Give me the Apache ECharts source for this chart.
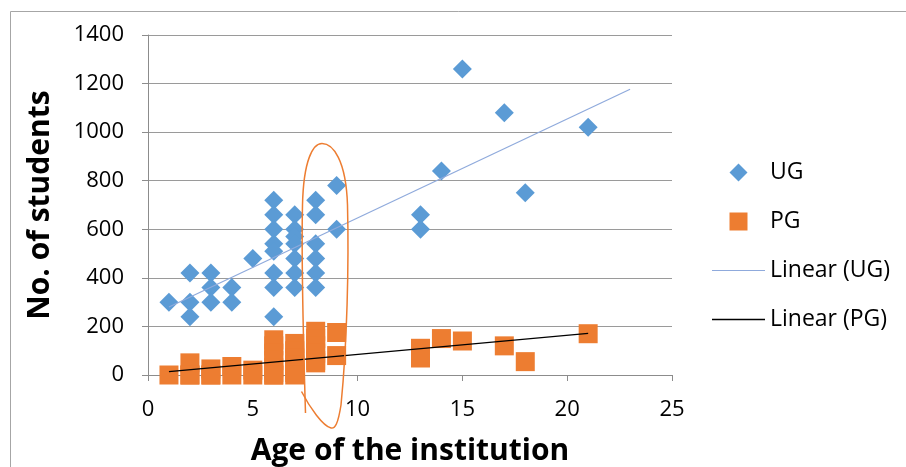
<!DOCTYPE html>
<html>
<head>
<meta charset="utf-8">
<script src="https://cdn.jsdelivr.net/npm/echarts@6/dist/echarts.min.js"></script>
<style>
  html, body { margin: 0; padding: 0; background: #fff; }
  #chart { width: 906px; height: 467px; }
</style>
</head>
<body>
<div id="chart"></div>
<script>
// ---- Data ----
var xTicks = [0, 5, 10, 15, 20, 25];
var yTicks = [0, 200, 400, 600, 800, 1000, 1200, 1400];

// Undergraduate students: [age of institution, number of students]
var ugAges   = [1, 2, 2, 2, 3, 3, 3, 4, 4, 5,
                6, 6, 6, 6, 6, 6, 6, 6,
                7, 7, 7, 7, 7, 7, 7,
                8, 8, 8, 8, 8, 8,
                9, 9, 13, 13, 14, 15, 17, 18, 21];
var ugValues = [300, 420, 300, 240, 420, 360, 300, 360, 300, 480,
                720, 660, 600, 540, 510, 420, 360, 240,
                660, 600, 570, 540, 480, 420, 360,
                720, 660, 540, 480, 420, 360,
                780, 600, 660, 600, 840, 1260, 1080, 750, 1020];

// Postgraduate students
var pgAges   = [1, 2, 2, 2, 3, 3, 3, 4, 4, 5, 5,
                6, 6, 6, 6, 6, 6, 6, 6,
                7, 7, 7, 7, 7, 7, 7,
                8, 8, 8, 8, 8, 8,
                9, 9, 13, 13, 14, 15, 17, 18, 21];
var pgValues = [0, 50, 0, 0, 25, 0, 0, 35, 0, 20, 0,
                145, 120, 90, 60, 30, 10, 0, 0,
                130, 100, 70, 40, 20, 10, 0,
                180, 150, 120, 90, 60, 50,
                175, 80, 110, 70, 150, 140, 120, 55, 170];

var seriesNames = ['UG', 'PG', 'Linear (UG)', 'Linear (PG)'];
var ugForecastForward = 2; // trendline extended forward (periods)

function pairs(xs, ys) { return xs.map(function (x, i) { return [x, ys[i]]; }); }
function linreg(xs, ys) {
  var n = xs.length, sx = 0, sy = 0, sxy = 0, sxx = 0;
  for (var i = 0; i < n; i++) { sx += xs[i]; sy += ys[i]; sxy += xs[i] * ys[i]; sxx += xs[i] * xs[i]; }
  var b = (n * sxy - sx * sy) / (n * sxx - sx * sx);
  var a = (sy - b * sx) / n;
  return { a: a, b: b };
}
function trend(xs, ys, fwd) {
  var r = linreg(xs, ys);
  var x0 = Math.min.apply(null, xs), x1 = Math.max.apply(null, xs) + fwd;
  return [[x0, r.a + r.b * x0], [x1, r.a + r.b * x1]];
}

// hand-drawn orange loop annotation (pixel curve segments)
var loopSegments = [
  [305.5, 413, 303, 330, 301.5, 250, 302.5, 205],
  [302.5, 205, 303.5, 160, 313, 143.5, 322, 143.5],
  [322, 143.5, 333, 143.5, 346, 160, 347.5, 205],
  [347.5, 205, 349, 265, 347, 345, 341, 405],
  [341, 405, 338, 424, 335, 429, 331, 428],
  [331, 428, 323, 426, 310, 408, 301.5, 391.5]
];

var FONT = 'Open Sans';
var chart = echarts.init(document.getElementById('chart'), null, { renderer: 'canvas' });

var graphics = [
  {
    type: 'rect', z: -1, silent: true,
    shape: { x: 10.5, y: 11.5, width: 1000, height: 1000 },
    style: { fill: 'none', stroke: '#A6A6A6', lineWidth: 1 }
  }
];
loopSegments.forEach(function (s) {
  graphics.push({
    type: 'bezierCurve', z: 100, silent: true,
    shape: { x1: s[0], y1: s[1], cpx1: s[2], cpy1: s[3], cpx2: s[4], cpy2: s[5], x2: s[6], y2: s[7] },
    style: { fill: 'none', stroke: '#ED7D31', lineWidth: 1.5 }
  });
});

var option = {
  animation: false,
  backgroundColor: '#fff',
  textStyle: { fontFamily: FONT },
  grid: { left: 148, right: 234, top: 35, bottom: 92, containLabel: false, outerBoundsMode: 'none' },
  legend: {
    orient: 'vertical',
    left: 707,
    top: 156,
    itemWidth: 53,
    itemHeight: 18,
    itemGap: 26,
    selectedMode: false,
    textStyle: { fontFamily: FONT, fontSize: 23, color: '#000', lineHeight: 22 },
    data: [
      { name: seriesNames[0], icon: 'path://M10,0L20,10L10,20L0,10Z' },
      { name: seriesNames[1], icon: 'path://M0,0H20V20H0Z' },
      { name: seriesNames[2], icon: 'path://M0,0H53V1.2H0Z' },
      { name: seriesNames[3], icon: 'path://M0,0H53V1.3H0Z' }
    ]
  },
  xAxis: {
    type: 'value',
    min: xTicks[0], max: xTicks[xTicks.length - 1], interval: xTicks[1] - xTicks[0],
    name: 'Age of the institution',
    nameLocation: 'middle',
    nameGap: 61,
    nameTextStyle: { fontFamily: FONT, fontSize: 30, fontWeight: 'bold', color: '#000' },
    axisLine: { show: true, lineStyle: { color: '#8c8c8c', width: 1 } },
    axisTick: { show: true, inside: false, length: 6, lineStyle: { color: '#8c8c8c' } },
    axisLabel: { fontFamily: FONT, fontSize: 22, color: '#000', margin: 24 },
    splitLine: { show: false }
  },
  yAxis: {
    type: 'value',
    min: yTicks[0], max: yTicks[yTicks.length - 1], interval: yTicks[1] - yTicks[0],
    name: 'No. of students',
    nameLocation: 'middle',
    nameGap: 93,
    nameRotate: 90,
    nameTextStyle: { fontFamily: FONT, fontSize: 30, fontWeight: 'bold', color: '#000' },
    axisLine: { show: true, lineStyle: { color: '#8c8c8c', width: 1 } },
    axisTick: { show: true, inside: false, length: 6, lineStyle: { color: '#8c8c8c' } },
    axisLabel: { fontFamily: FONT, fontSize: 22, color: '#000', margin: 24,
                 formatter: function (v) { return String(v); } },
    splitLine: { show: true, lineStyle: { color: '#9a9a9a', width: 1.2 } }
  },
  series: [
    {
      name: seriesNames[0], type: 'scatter', symbol: 'diamond', symbolSize: 19,
      itemStyle: { color: '#5B9BD5', opacity: 1 },
      emphasis: { disabled: true },
      data: pairs(ugAges, ugValues), z: 2
    },
    {
      name: seriesNames[1], type: 'scatter', symbol: 'rect', symbolSize: 19,
      itemStyle: { color: '#ED7D31', opacity: 1 },
      emphasis: { disabled: true },
      data: pairs(pgAges, pgValues), z: 3
    },
    {
      name: seriesNames[2], type: 'line', symbol: 'none', silent: true,
      lineStyle: { color: '#8FAADC', width: 1.2 },
      itemStyle: { color: '#8FAADC' },
      data: trend(ugAges, ugValues, ugForecastForward), z: 4
    },
    {
      name: seriesNames[3], type: 'line', symbol: 'none', silent: true,
      lineStyle: { color: '#000', width: 1.3 },
      itemStyle: { color: '#000' },
      data: trend(pgAges, pgValues, 0), z: 4
    }
  ],
  graphic: graphics
};
chart.setOption(option);
</script>
</body>
</html>
